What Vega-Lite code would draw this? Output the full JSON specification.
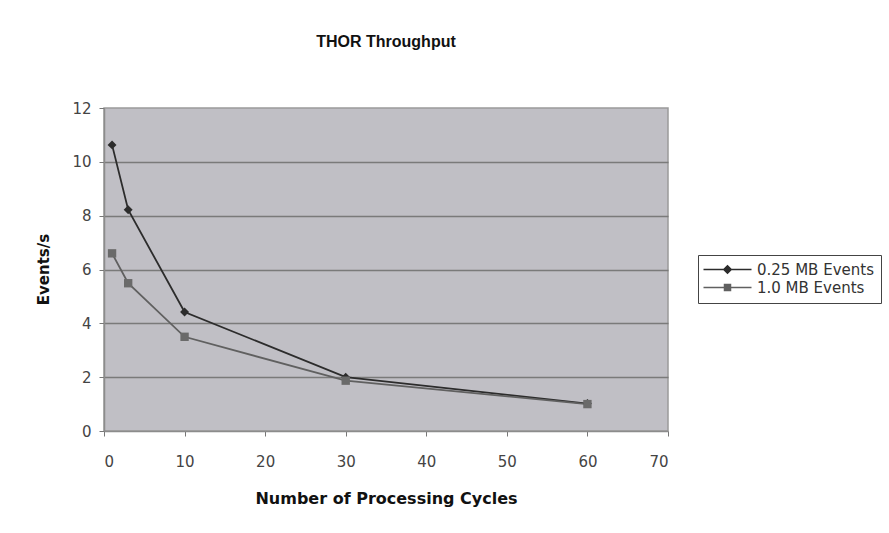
{
  "$schema": "https://vega.github.io/schema/vega-lite/v6.json",
  "width": 564,
  "height": 323,
  "autosize": {"type": "none"},
  "padding": {"left": 104, "top": 108, "right": 221, "bottom": 102},
  "background": "white",
  "config": {
    "view": {"fill": "#c0bfc5", "stroke": "#9a9a9a", "strokeWidth": 1.5},
    "font": "DejaVu Sans",
    "legend": {
      "orient": "none",
      "legendX": 594,
      "legendY": 147,
      "strokeColor": "#444444",
      "fillColor": "white",
      "padding": 7,
      "labelFont": "DejaVu Sans",
      "labelFontSize": 15,
      "labelColor": "#333333",
      "symbolSize": 100,
      "symbolStrokeWidth": 1.5,
      "symbolOffset": 15,
      "labelOffset": 22,
      "rowPadding": 2
    }
  },
  "title": {
    "text": "THOR Throughput",
    "font": "Liberation Sans",
    "fontSize": 16,
    "fontWeight": "bold",
    "color": "#111111",
    "anchor": "middle",
    "offset": 51
  },
  "data": {
    "values": [
      {"series": "0.25 MB Events", "cycles": 1, "rate": 10.63},
      {"series": "0.25 MB Events", "cycles": 3, "rate": 8.22},
      {"series": "0.25 MB Events", "cycles": 10, "rate": 4.42},
      {"series": "0.25 MB Events", "cycles": 30, "rate": 2.0},
      {"series": "0.25 MB Events", "cycles": 60, "rate": 1.02},
      {"series": "1.0 MB Events", "cycles": 1, "rate": 6.6},
      {"series": "1.0 MB Events", "cycles": 3, "rate": 5.49},
      {"series": "1.0 MB Events", "cycles": 10, "rate": 3.5},
      {"series": "1.0 MB Events", "cycles": 30, "rate": 1.87},
      {"series": "1.0 MB Events", "cycles": 60, "rate": 1.0}
    ]
  },
  "encoding": {
    "x": {
      "field": "cycles",
      "type": "quantitative",
      "scale": {"domain": [0, 70], "nice": false},
      "axis": {
        "values": [0, 10, 20, 30, 40, 50, 60, 70],
        "grid": false,
        "title": "Number of Processing Cycles",
        "titleFont": "DejaVu Sans",
        "titleFontSize": 16,
        "titleFontWeight": "bold",
        "titleColor": "#111111",
        "titleX": 282,
        "titleY": 67,
        "titleBaseline": "middle",
        "labelFont": "DejaVu Sans",
        "labelFontSize": 15,
        "labelColor": "#444444",
        "labelPadding": 18,
        "tickSize": 5,
        "tickColor": "#777777",
        "domainColor": "#8c8c8c",
        "domainWidth": 1.5
      }
    },
    "y": {
      "field": "rate",
      "type": "quantitative",
      "scale": {"domain": [0, 12], "nice": false},
      "axis": {
        "values": [0, 2, 4, 6, 8, 10, 12],
        "grid": true,
        "gridColor": {"condition": {"test": "datum.value === 0 || datum.value === 12", "value": "transparent"}, "value": "#7a7a7a"},
        "gridWidth": 1.5,
        "title": "Events/s",
        "titleFont": "DejaVu Sans",
        "titleFontSize": 15,
        "titleFontWeight": "bold",
        "titleColor": "#111111",
        "titleX": -61,
        "titleY": 161,
        "titleAlign": "center",
        "titleBaseline": "middle",
        "labelFont": "DejaVu Sans",
        "labelFontSize": 15,
        "labelColor": "#444444",
        "labelPadding": 8,
        "tickSize": 5,
        "tickColor": "#777777",
        "domainColor": "#8c8c8c",
        "domainWidth": 1.5
      }
    },
    "color": {
      "field": "series",
      "type": "nominal",
      "title": null,
      "scale": {"domain": ["0.25 MB Events", "1.0 MB Events"], "range": ["#2c2c2c", "#606060"]},
      "legend": {
        "title": null,
        "encode": {
          "symbols": {
            "update": {
              "fill": {"scale": "color", "field": "value"},
              "stroke": {"scale": "color", "field": "value"},
              "opacity": {"value": 1}
            }
          }
        }
      }
    }
  },
  "layer": [
    {
      "mark": {"type": "line", "strokeWidth": 1.8}
    },
    {
      "transform": [{"filter": {"field": "series", "equal": "0.25 MB Events"}}],
      "mark": {"type": "point", "shape": "diamond", "filled": true, "size": 80, "opacity": 1}
    },
    {
      "transform": [{"filter": {"field": "series", "equal": "1.0 MB Events"}}],
      "mark": {"type": "point", "shape": "square", "filled": true, "size": 70, "opacity": 1},
      "encoding": {"color": {"value": "#6a6a6a"}}
    },
    {
      "transform": [{"filter": {"field": "series", "equal": "none"}}],
      "mark": {"type": "point", "filled": true, "opacity": 1},
      "encoding": {
        "shape": {
          "field": "series",
          "type": "nominal",
          "title": null,
          "scale": {
            "domain": ["0.25 MB Events", "1.0 MB Events"],
            "range": ["M-4.8,0H4.8M-0.75,0L0,-0.75L0.75,0L0,0.75Z", "M-4.8,0H4.8M-0.6,-0.6H0.6V0.6H-0.6Z"]
          },
          "legend": {
            "title": null,
            "encode": {
              "symbols": {
                "update": {
                  "fill": {"scale": "color", "field": "value"},
                  "stroke": {"scale": "color", "field": "value"},
                  "opacity": {"value": 1}
                }
              }
            }
          }
        }
      }
    }
  ]
}
